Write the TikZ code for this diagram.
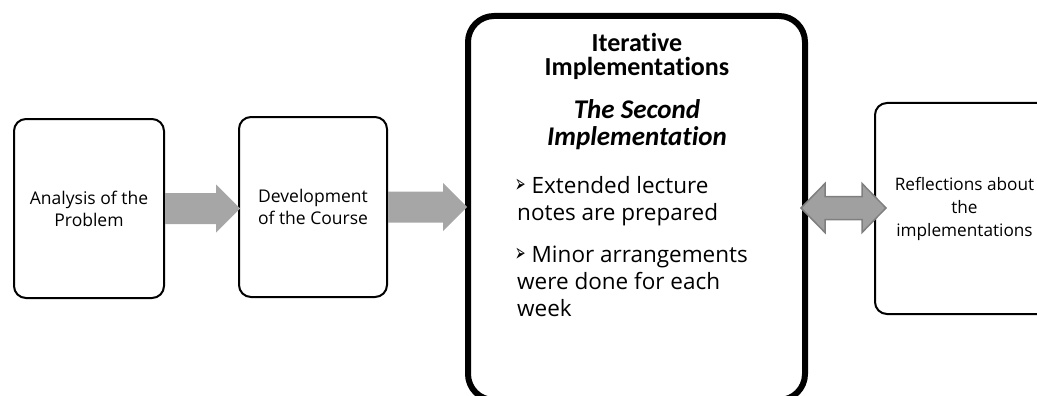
\documentclass[tikz,border=0pt]{standalone}
\usepackage{fontspec}
\usepackage{graphicx}
\setmainfont{Open Sans}
\newfontfamily\headfont[Ligatures=NoCommon]{Carlito}
\newfontfamily\symfont{DejaVu Sans}
\usetikzlibrary{calc}

\definecolor{arrowgray}{HTML}{A6A6A6}
\definecolor{dblfill}{HTML}{A0A0A0}
\definecolor{dbledge}{HTML}{7F7F7F}

% bullet used in front of the list items
\newcommand\itembullet{{\symfont\fontsize{25}{25}\selectfont
  \raisebox{0.5pt}{\scalebox{0.5}[1]{➢}}}\hspace{6pt}}

% block arrow pointing from the east side of #1 to the west side of #2
\newcommand\flowarrow[2]{%
  \fill[arrowgray] let \p1=(#1.east), \p2=(#2.west) in
    (\x1,\y1-15.5pt) -- (\x2-22pt,\y1-15.5pt) -- (\x2-22pt,\y1-24pt) --
    (\x2+2pt,\y1) -- (\x2-22pt,\y1+24pt) -- (\x2-22pt,\y1+15.5pt) --
    (\x1,\y1+15.5pt) -- cycle;}

% block arrow with heads on both ends, between #1 and #2
\newcommand\linkarrow[2]{%
  \filldraw[fill=dblfill, draw=dbledge, line width=1.5pt, line join=miter]
    let \p1=(#1.east), \p2=(#2.west) in
    (\x1-7pt,\y1) -- (\x1+17pt,\y1+24.5pt) -- (\x1+17pt,\y1+11.5pt) --
    (\x2-12pt,\y1+11.5pt) -- (\x2-12pt,\y1+24.5pt) -- (\x2+12pt,\y1) --
    (\x2-12pt,\y1-24.5pt) -- (\x2-12pt,\y1-11.5pt) --
    (\x1+17pt,\y1-11.5pt) -- (\x1+17pt,\y1-24.5pt) -- cycle;}

\begin{document}
\begin{tikzpicture}[x=1pt, y=-1pt,
  stagebox/.style={draw=black, line width=2pt, rounded corners=12pt,
    align=center, inner sep=0pt,
    font=\fontsize{17.5}{22}\selectfont},
  mainbox/.style={draw=black, line width=6pt, rounded corners=26pt,
    inner sep=0pt},
  headline/.style={anchor=base, inner sep=0pt,
    font=\headfont\bfseries\fontsize{26}{23}\selectfont},
  subline/.style={anchor=base, inner sep=0pt,
    font=\headfont\bfseries\itshape\fontsize{27}{27}\selectfont},
  bodyline/.style={anchor=base west, inner sep=0pt,
    font=\fontsize{22.5}{27}\selectfont}]

\useasboundingbox (0,0) rectangle (1037,396);
\clip (0,0) rectangle (1037,396);

% stages
\node[stagebox, minimum width=150pt, minimum height=179pt]
  (analysis) at (89,208.5) {Analysis of the\\Problem};
\node[stagebox, minimum width=148pt, minimum height=180pt]
  (development) at (313,207) {Development\\of the Course};
\node[mainbox, minimum width=337pt, minimum height=384pt]
  (iterative) at (636.5,208) {};
\node[stagebox, minimum width=179pt, minimum height=211pt,
  font=\fontsize{17.2}{23}\selectfont]
  (reflection) at (964.5,208.5) {Reflections about\\the\\implementations};

% content of the central stage
\node[headline] (h1) at (637,52) {Iterative};
\node[headline] (h2) at (637,76) {Implementations};
\node[subline] (s1) at (637,118) {The Second};
\node[subline] (s2) at (637,145) {Implementation};
\node[bodyline] (a1) at (515,193) {\itembullet Extended lecture};
\node[bodyline] (a2) at (517,220) {notes are prepared};
\node[bodyline] (b1) at (515,262) {\itembullet Minor arrangements};
\node[bodyline] (b2) at (517,289) {were done for each};
\node[bodyline] (b3) at (517,316) {week};

% connectors
\flowarrow{analysis}{development}
\flowarrow{development}{iterative}
\linkarrow{iterative}{reflection}
\end{tikzpicture}
\end{document}
